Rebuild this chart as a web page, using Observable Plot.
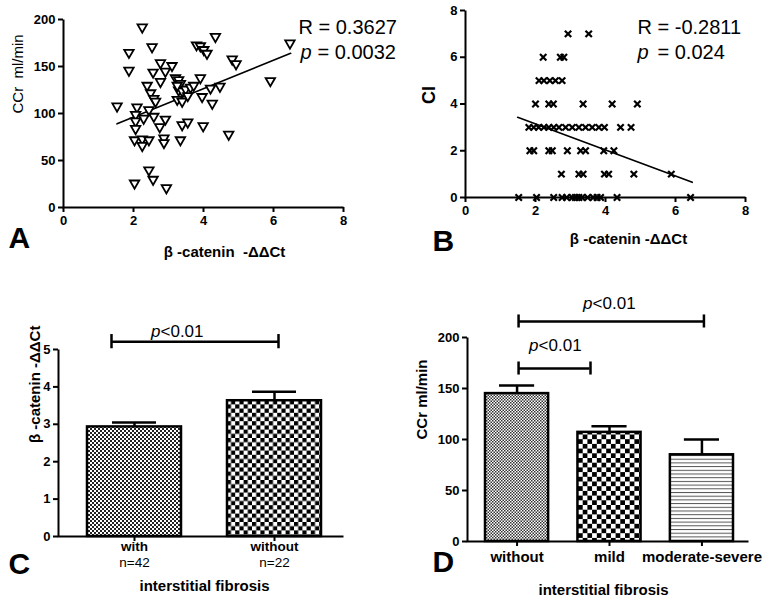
<!DOCTYPE html>
<html><head><meta charset="utf-8">
<script src="https://cdn.jsdelivr.net/npm/d3@7"></script>
<script src="https://cdn.jsdelivr.net/npm/@observablehq/plot@0.6"></script>
<style>
body{margin:0;background:#fff}
#fig{position:relative;width:782px;height:604px;overflow:hidden;background:#fff}
</style></head><body>
<svg width="0" height="0" style="position:absolute">
<defs>
<pattern id="pC1" patternUnits="userSpaceOnUse" width="4" height="4"><rect width="4" height="4" fill="#fff"/><rect width="2" height="2" fill="#222"/><rect x="2" y="2" width="2" height="2" fill="#222"/></pattern>
<pattern id="pC2" patternUnits="userSpaceOnUse" width="8.4" height="8.4"><rect width="8.4" height="8.4" fill="#fff"/><rect width="4.2" height="4.2" fill="#000"/><rect x="4.2" y="4.2" width="4.2" height="4.2" fill="#000"/></pattern>
<pattern id="pD1" patternUnits="userSpaceOnUse" width="3" height="3"><rect width="3" height="3" fill="#fff"/><rect width="1.5" height="1.5" fill="#333"/><rect x="1.5" y="1.5" width="1.5" height="1.5" fill="#333"/></pattern>
<pattern id="pD2" patternUnits="userSpaceOnUse" width="9.4" height="9.4"><rect width="9.4" height="9.4" fill="#fff"/><rect width="4.7" height="4.7" fill="#000"/><rect x="4.7" y="4.7" width="4.7" height="4.7" fill="#000"/></pattern>
<pattern id="pD3" patternUnits="userSpaceOnUse" width="4" height="3.7"><rect width="4" height="3.7" fill="#fff"/><rect width="4" height="1" fill="#555"/></pattern>
</defs></svg>
<div id="fig"></div>
<script>
// ---------- DATA ----------
// Panel A: beta-catenin -ddCt vs CCr (ml/min)
const pointsA = [
  [1.53,107],[1.87,164],[1.87,145],[2.25,191],[2.53,170],[2.56,143],[2.77,153],[2.91,144],[3.1,150],
  [2.77,133],[2.39,129],[2.49,121],[2.58,115],[2.63,112],[2.1,106],[2.44,103],[2.06,98],[2.29,94],
  [2.58,96],[2.91,93],[2.06,91],[2.75,85],[2.06,83],[2.03,71],[2.25,72],[2.44,71],[2.25,65],[2.87,73],
  [2.87,68],[3.34,71],[3.39,87],[3.55,90],[3.99,86],[4.72,77],[2.03,25],[2.44,39],[2.56,29],[2.94,20],
  [3.8,172],[3.91,171],[4.01,167],[4.1,163],[4.34,181],[4.82,157],[4.93,152],[3.91,137],[3.2,137],
  [3.29,135],[3.34,131],[3.29,124],[3.39,123],[3.49,125],[3.63,127],[3.72,129],[3.25,114],[3.39,112],
  [3.55,118],[3.96,117],[4.2,126],[4.47,128],[4.25,110],[5.91,134],[6.47,174],[3.25,129]
];
const regA = [[1.53,89],[6.49,164]];
const statsA = ["R = 0.3627", "= 0.0032"];

// Panel B: beta-catenin -ddCt vs CI
const pointsB = [
  [2.93,7],[3.52,7],
  [2.22,6],[2.71,6],[2.81,6],
  [2.1,5],[2.24,5],[2.41,5],[2.57,5],[2.76,5],
  [2.0,4],[2.38,4],[2.51,4],[3.36,4],[4.19,4],[4.91,4],
  [1.81,3],[1.95,3],[2.09,3],[2.24,3],[2.38,3],[2.52,3],[2.67,3],[2.86,3],[3.05,3],[3.24,3],[3.43,3],
  [3.62,3],[3.81,3],[3.97,3],[4.43,3],[4.73,3],
  [1.84,2],[1.95,2],[2.38,2],[2.48,2],[2.91,2],[3.29,2],[3.43,2],[3.95,2],[4.24,2],
  [2.74,1],[3.24,1],[3.36,1],[3.97,1],[4.09,1],[4.81,1],[5.88,1],
  [1.52,0],[2.03,0],[2.52,0],[2.76,0],[2.89,0],[3.05,0],[3.14,0],[3.24,0],[3.33,0],[3.49,0],[3.65,0],
  [3.76,0],[3.86,0],[4.33,0],[6.43,0]
];
const regB = [[1.49,3.43],[6.48,0.65]];
const statsB = ["R = -0.2811", "= 0.024"];

// Panel C: beta-catenin -ddCt by interstitial fibrosis
const catsC = ["with", "without"];
const meanC = [2.93, 3.63];
const seC = [0.12, 0.24];
const nC = ["n=42", "n=22"];
const sigC = [{from: "with", to: "without", y: 5.21, label: "<0.01"}];

// Panel D: CCr by interstitial fibrosis grade
const catsD = ["without", "mild", "moderate-severe"];
const meanD = [145, 107, 85];
const seD = [8, 6, 15];
const sigD = [
  {from: "without", to: "moderate-severe", y: 215.7, label: "<0.01"},
  {from: "without", to: "mild", y: 169.6, label: "<0.01"}
];

const xTicks = [0, 2, 4, 6, 8];
const yTicksA = [0, 50, 100, 150, 200];
const yTicksB = [0, 2, 4, 6, 8];
const yTicksC = [0, 1, 2, 3, 4, 5];
const yTicksD = [0, 50, 100, 150, 200];

// ---------- RENDER ----------
const FONT = "'Liberation Sans', Arial, sans-serif";
const fig = document.getElementById("fig");
const baseStyle = {fontFamily: FONT, fontSize: "13px", fontWeight: "bold", color: "black", background: "transparent", overflow: "visible"};
const fmt = d => String(d);
const axOpts = {tickSize: 5, strokeWidth: 2, label: null, fontSize: 13, fontWeight: "bold", tickFormat: fmt};

function axesFrame(w, h, ml, mr, mt, mb) {
  const fw = w - ml - mr, fh = h - mt - mb;
  return Plot.frame({stroke: "black", strokeWidth: 2, strokeDasharray: `0 ${fw + fh} ${fw + fh}`});
}
function place(el, left, top) {
  el.style.position = "absolute";
  el.style.left = left + "px";
  el.style.top = top + "px";
  fig.appendChild(el);
}
const triDown = {
  draw(ctx, size) {
    const r = Math.sqrt(size / Math.PI);
    ctx.moveTo(-r * 1.05, -r * 0.78);
    ctx.lineTo(r * 1.05, -r * 0.78);
    ctx.lineTo(0, r * 1.05);
    ctx.closePath();
  }
};
const panelLabel = (t, dx, dy) => Plot.text([t], {text: d => d, frameAnchor: "bottom-left", textAnchor: "start", dx, dy, fontSize: 30, fontWeight: "bold"});

// Panel B
{
  const W = 392, H = 270, ML = 75, MR = 37, MT = 10, MB = 73;
  const el = Plot.plot({
    width: W, height: H, marginLeft: ML, marginRight: MR, marginTop: MT, marginBottom: MB,
    style: baseStyle,
    x: {domain: [0, 8]}, y: {domain: [0, 8]},
    marks: [
      Plot.line(regB, {x: d => d[0], y: d => d[1], stroke: "black", strokeWidth: 1.6}),
      Plot.dot(pointsB, {x: d => d[0], y: d => d[1], symbol: "times", r: 3, stroke: "black", strokeWidth: 2.2}),
      axesFrame(W, H, ML, MR, MT, MB),
      Plot.axisX({...axOpts, ticks: xTicks, tickPadding: 3}),
      Plot.axisY({...axOpts, ticks: yTicksB, tickPadding: 3}),
      Plot.text(["CI"], {text: d => d, frameAnchor: "left", rotate: -90, dx: -36, fontSize: 18, fontWeight: "bold"}),
      Plot.text(["β -catenin -ΔΔCt"], {text: d => d, frameAnchor: "bottom", dx: 23, dy: 46, fontSize: 15, fontWeight: "bold"}),
      Plot.text([statsB[0]], {text: d => d, frameAnchor: "top-right", textAnchor: "start", dx: -108, dy: 9.5, fontSize: 20, fontWeight: "normal"}),
      Plot.text(["p"], {text: d => d, frameAnchor: "top-right", textAnchor: "start", dx: -108, dy: 34, fontSize: 20, fontWeight: "normal", fontStyle: "italic"}),
      Plot.text([statsB[1]], {text: d => d, frameAnchor: "top-right", textAnchor: "start", dx: -88, dy: 34, fontSize: 20, fontWeight: "normal"}),
      panelLabel("B", -33, 53)
    ]
  });
  place(el, 390, 0);
}

// Panel A
{
  const W = 390, H = 270, ML = 63, MR = 47, MT = 19, MB = 63;
  const el = Plot.plot({
    width: W, height: H, marginLeft: ML, marginRight: MR, marginTop: MT, marginBottom: MB,
    style: baseStyle,
    x: {domain: [0, 8]}, y: {domain: [0, 200]},
    marks: [
      Plot.line(regA, {x: d => d[0], y: d => d[1], stroke: "black", strokeWidth: 1.6}),
      Plot.dot(pointsA, {x: d => d[0], y: d => d[1], symbol: triDown, r: 4.5, fill: "white", stroke: "black", strokeWidth: 1.8}),
      axesFrame(W, H, ML, MR, MT, MB),
      Plot.axisX({...axOpts, ticks: xTicks, tickPadding: 3}),
      Plot.axisY({...axOpts, ticks: yTicksA, tickPadding: 3}),
      Plot.text(["CCr  ml/min"], {text: d => d, frameAnchor: "left", rotate: -90, dx: -45, fontSize: 15, fontWeight: "normal"}),
      Plot.text(["β -catenin  -ΔΔCt"], {text: d => d, frameAnchor: "bottom", dx: 21, dy: 49, fontSize: 15, fontWeight: "bold"}),
      Plot.text([statsA[0]], {text: d => d, frameAnchor: "top-right", textAnchor: "start", dx: -45, dy: 0.5, fontSize: 20, fontWeight: "normal"}),
      Plot.text(["p"], {text: d => d, frameAnchor: "top-right", textAnchor: "start", dx: -43, dy: 25, fontSize: 20, fontWeight: "normal", fontStyle: "italic"}),
      Plot.text([statsA[1]], {text: d => d, frameAnchor: "top-right", textAnchor: "start", dx: -26, dy: 25, fontSize: 20, fontWeight: "normal"}),
      panelLabel("A", -55, 40)
    ]
  });
  place(el, 0, 0);
}

// Panel C
{
  const W = 390, H = 334, ML = 58, MR = 47, MT = 79, MB = 68;
  const bars = catsC.map((c, i) => ({cat: c, mean: meanC[i], se: seC[i], n: nC[i]}));
  const fills = {"with": "url(#pC1)", "without": "url(#pC2)"};
  const s = sigC[0];
  const el = Plot.plot({
    width: W, height: H, marginLeft: ML, marginRight: MR, marginTop: MT, marginBottom: MB,
    style: baseStyle,
    x: {type: "band", domain: catsC, range: [87, 321], paddingInner: 0.3286, paddingOuter: 0, round: false},
    y: {domain: [0, 5]},
    color: {type: "identity"},
    marks: [
      Plot.ruleX(bars, {x: "cat", y1: "mean", y2: d => d.mean + d.se, stroke: "black", strokeWidth: 2.5}),
      Plot.tickY(bars, {x: "cat", y: d => d.mean + d.se, insetLeft: 25, insetRight: 25, stroke: "black", strokeWidth: 2.5}),
      Plot.barY(bars, {x: "cat", y: "mean", fill: d => fills[d.cat], stroke: "black", strokeWidth: 2.5}),
      axesFrame(W, H, ML, MR, MT, MB),
      Plot.axisX({...axOpts, tickPadding: 0, fontSize: 13.5}),
      Plot.axisY({...axOpts, ticks: yTicksC, tickPadding: 3}),
      Plot.text(bars, {x: "cat", text: "n", frameAnchor: "bottom", dy: 30, fontSize: 13.5, fontWeight: "normal"}),
      Plot.text(["interstitial fibrosis"], {text: d => d, frameAnchor: "bottom", dx: 3.5, dy: 54, fontSize: 15, fontWeight: "bold"}),
      Plot.text(["β -catenin -ΔΔCt"], {text: d => d, frameAnchor: "left", rotate: -90, dx: -23, fontSize: 15, fontWeight: "bold"}),
      // significance bracket
      Plot.ruleY([s], {x1: "from", x2: "to", y: "y", insetLeft: 24, insetRight: 43, stroke: "black", strokeWidth: 2.5}),
      Plot.ruleX([s], {x: "from", y1: d => d.y - 0.19, y2: d => d.y + 0.19, dx: -23, stroke: "black", strokeWidth: 2.5}),
      Plot.ruleX([s], {x: "to", y1: d => d.y - 0.19, y2: d => d.y + 0.19, dx: 4, stroke: "black", strokeWidth: 2.5}),
      Plot.text([s], {x: "from", y: "y", text: () => "p", textAnchor: "end", dx: 26, dy: -10, fontSize: 17, fontWeight: "normal", fontStyle: "italic"}),
      Plot.text([s], {x: "from", y: "y", text: "label", textAnchor: "start", dx: 26, dy: -10, fontSize: 17, fontWeight: "normal"}),
      panelLabel("C", -50, 37)
    ]
  });
  place(el, 0, 270);
}

// Panel D
{
  const W = 392, H = 334, ML = 77, MR = 34, MT = 67, MB = 63;
  const bars = catsD.map((c, i) => ({cat: c, mean: meanD[i], se: seD[i]}));
  const fills = {"without": "url(#pD1)", "mild": "url(#pD2)", "moderate-severe": "url(#pD3)"};
  const [s1, s2] = sigD;
  const h = 6.4;
  const el = Plot.plot({
    width: W, height: H, marginLeft: ML, marginRight: MR, marginTop: MT, marginBottom: MB,
    style: baseStyle,
    x: {type: "band", domain: catsD, range: [95, 343], paddingInner: 0.317, paddingOuter: 0, round: false},
    y: {domain: [0, 200]},
    color: {type: "identity"},
    marks: [
      Plot.ruleX(bars, {x: "cat", y1: "mean", y2: d => d.mean + d.se, stroke: "black", strokeWidth: 2.5}),
      Plot.tickY(bars, {x: "cat", y: d => d.mean + d.se, insetLeft: 14, insetRight: 14, stroke: "black", strokeWidth: 2.5}),
      Plot.barY(bars, {x: "cat", y: "mean", fill: d => fills[d.cat], stroke: "black", strokeWidth: 2.5}),
      axesFrame(W, H, ML, MR, MT, MB),
      Plot.axisX({...axOpts, tickPadding: 5, fontSize: 15}),
      Plot.axisY({...axOpts, ticks: yTicksD, tickPadding: 3}),
      Plot.text(["interstitial fibrosis"], {text: d => d, frameAnchor: "bottom", dx: -4.5, dy: 53, fontSize: 15, fontWeight: "bold"}),
      Plot.text(["CCr ml/min"], {text: d => d, frameAnchor: "left", rotate: -90, dx: -45, fontSize: 15, fontWeight: "bold"}),
      // bracket 1
      Plot.ruleY([s1], {x1: "from", x2: "to", y: "y", insetLeft: 33, insetRight: 30, stroke: "black", strokeWidth: 2.5}),
      Plot.ruleX([s1], {x: "from", y1: d => d.y - h, y2: d => d.y + h, dx: 1.5, stroke: "black", strokeWidth: 2.5}),
      Plot.ruleX([s1], {x: "to", y1: d => d.y - h, y2: d => d.y + h, dx: 2, stroke: "black", strokeWidth: 2.5}),
      Plot.text([s1], {x: "from", y: "y", text: () => "p", textAnchor: "end", dx: 75.5, dy: -17.5, fontSize: 17, fontWeight: "normal", fontStyle: "italic"}),
      Plot.text([s1], {x: "from", y: "y", text: "label", textAnchor: "start", dx: 75.5, dy: -17.5, fontSize: 17, fontWeight: "normal"}),
      // bracket 2
      Plot.ruleY([s2], {x1: "from", x2: "to", y: "y", insetLeft: 33, insetRight: 51, stroke: "black", strokeWidth: 2.5}),
      Plot.ruleX([s2], {x: "from", y1: d => d.y - h, y2: d => d.y + h, dx: 1.5, stroke: "black", strokeWidth: 2.5}),
      Plot.ruleX([s2], {x: "to", y1: d => d.y - h, y2: d => d.y + h, dx: -19, stroke: "black", strokeWidth: 2.5}),
      Plot.text([s2], {x: "from", y: "y", text: () => "p", textAnchor: "end", dx: 21.5, dy: -23, fontSize: 17, fontWeight: "normal", fontStyle: "italic"}),
      Plot.text([s2], {x: "from", y: "y", text: "label", textAnchor: "start", dx: 21.5, dy: -23, fontSize: 17, fontWeight: "normal"}),
      panelLabel("D", -35, 30)
    ]
  });
  place(el, 390, 270);
}
</script>
</body></html>
